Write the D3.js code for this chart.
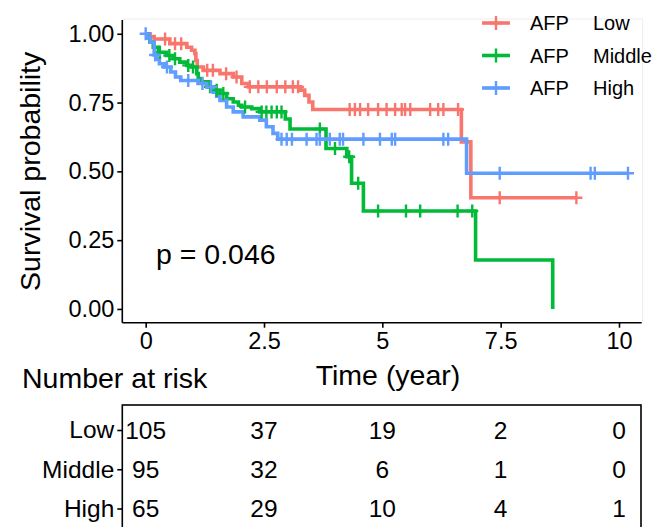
<!DOCTYPE html>
<html><head><meta charset="utf-8">
<script src="https://cdn.jsdelivr.net/npm/d3@7"></script>
<style>
html,body{margin:0;padding:0;background:#fff;}
text{font-family:"Liberation Sans",Arial,Helvetica,sans-serif;fill:#000;}
</style></head>
<body><svg id="c" width="653" height="527"></svg>
<script>
// ---------------- data ----------------
const groups = ["Low", "Middle", "High"];
const groupColors = ["#F8766D", "#00BA38", "#619CFF"];
const legendPrefix = "AFP";

const lowTimes = [0, 0.09, 0.18, 0.51, 0.87, 0.97, 1.04, 1.06, 1.09, 1.22, 1.57, 1.85, 2.03, 2.17, 3.27, 3.36, 3.45, 3.53, 6.67, 6.87];
const lowSurv  = [1, 0.99, 0.981, 0.964, 0.951, 0.94, 0.928, 0.903, 0.879, 0.867, 0.855, 0.843, 0.819, 0.807, 0.795, 0.776, 0.752, 0.725, 0.607, 0.404];
const lowEnd = 9.1;
const lowCensor = [0.41, 0.62, 0.75, 1.3, 1.42, 1.7, 1.92, 2.2, 2.38, 2.56, 2.77, 2.95, 3.11, 3.22, 4.31, 4.42, 4.53, 4.70, 4.91, 5.09, 5.27, 5.41, 5.48, 5.59, 6.01, 6.18, 6.29, 6.60, 7.48, 9.1];

const midTimes = [0, 0.05, 0.09, 0.16, 0.27, 0.44, 0.58, 0.72, 0.87, 0.97, 1.08, 1.11, 1.18, 1.32, 1.46, 1.57, 1.71, 1.85, 1.96, 2.03, 2.24, 2.41, 2.95, 3.05, 3.81, 4.25, 4.35, 4.6, 6.97, 8.6];
const midSurv  = [1, 0.985, 0.97, 0.951, 0.933, 0.921, 0.909, 0.897, 0.885, 0.879, 0.855, 0.837, 0.825, 0.807, 0.795, 0.783, 0.764, 0.752, 0.74, 0.734, 0.728, 0.716, 0.69, 0.654, 0.583, 0.553, 0.457, 0.356, 0.178, 0.0];
const midEnd = 8.6;
const midCensor = [0.3, 0.5, 0.62, 0.9, 1.0, 1.36, 1.5, 1.64, 2.1, 2.45, 2.55, 2.66, 2.77, 2.87, 3.68, 4.0, 4.3, 4.49, 4.91, 5.5, 5.8, 6.59, 6.9];

const highTimes = [0, 0.03, 0.1, 0.18, 0.23, 0.29, 0.39, 0.53, 0.63, 0.74, 1.11, 1.29, 1.43, 1.5, 1.57, 1.71, 1.85, 2.06, 2.41, 2.55, 2.69, 2.79, 6.78];
const highSurv  = [1, 0.985, 0.969, 0.923, 0.908, 0.891, 0.879, 0.861, 0.843, 0.83, 0.819, 0.807, 0.788, 0.773, 0.758, 0.734, 0.716, 0.698, 0.686, 0.662, 0.638, 0.617, 0.493];
const highEnd = 10.19;
const highCensor = [0.0, 0.2, 0.45, 0.9, 1.2, 1.38, 2.87, 2.98, 3.09, 3.4, 3.61, 3.68, 3.89, 4.1, 4.17, 4.6, 4.95, 5.2, 5.27, 6.29, 6.39, 7.48, 9.40, 9.49, 10.19];

const xTicks = [0, 2.5, 5, 7.5, 10];
const yTicks = [0, 0.25, 0.5, 0.75, 1];
const riskLow = [105, 37, 19, 2, 0];
const riskMiddle = [95, 32, 6, 1, 0];
const riskHigh = [65, 29, 10, 4, 1];
const pText = "p = 0.046";

// ---------------- chart ----------------
const series = [
  {name: groups[0], times: lowTimes, surv: lowSurv, end: lowEnd, censor: lowCensor, risk: riskLow, color: groupColors[0]},
  {name: groups[1], times: midTimes, surv: midSurv, end: midEnd, censor: midCensor, risk: riskMiddle, color: groupColors[1]},
  {name: groups[2], times: highTimes, surv: highSurv, end: highEnd, censor: highCensor, risk: riskHigh, color: groupColors[2]}
];

const svg = d3.select("#c");
const L = 122.3, R = 641.7, T = 20, B = 322.7;
const x = d3.scaleLinear().domain([-0.494, 10.48]).range([L, R]);
const y = d3.scaleLinear().domain([-0.05, 1.05]).range([B, T]);

// faint panel border
svg.append("path").attr("d", `M${L},${T - 1}H${R + 1}V${B}`)
  .attr("fill", "none").attr("stroke", "#ececec").attr("stroke-width", 1);

const stepVal = (s, t) => {
  let v = s.surv[0];
  for (let i = 0; i < s.times.length; i++) if (s.times[i] <= t) v = s.surv[i];
  return v;
};

const line = d3.line().x(d => x(d[0])).y(d => y(d[1])).curve(d3.curveStepAfter);
const plotG = svg.append("g");
series.forEach(s => {
  const pts = s.times.map((t, i) => [t, s.surv[i]]);
  pts.push([s.end, s.surv[s.surv.length - 1]]);
  plotG.append("path").attr("d", line(pts)).attr("fill", "none")
    .attr("stroke", s.color).attr("stroke-width", 3.6).attr("stroke-linejoin", "miter");
});
series.forEach(s => {
  plotG.selectAll(null).data(s.censor).enter().append("path")
    .attr("d", t => { const cx = x(t), cy = y(stepVal(s, t)); return `M${cx - 6},${cy}H${cx + 6}M${cx},${cy - 6.5}V${cy + 6.5}`; })
    .attr("stroke", s.color).attr("stroke-width", 2.4).attr("fill", "none");
});

// axes
const fmtX = d3.format("~g");
const xAxis = svg.append("g").attr("transform", `translate(0,${B})`)
  .call(d3.axisBottom(x).tickValues(xTicks).tickFormat(fmtX).tickSize(5).tickPadding(5).tickSizeOuter(0));
const yAxis = svg.append("g").attr("transform", `translate(${L},0)`)
  .call(d3.axisLeft(y).tickValues(yTicks).tickFormat(d3.format(".2f")).tickSize(5).tickPadding(3).tickSizeOuter(0));
[xAxis, yAxis].forEach(a => {
  a.select(".domain").attr("stroke", "#000").attr("stroke-width", 1.6);
  a.selectAll(".tick line").attr("stroke", "#000").attr("stroke-width", 1.6);
  a.selectAll(".tick text").attr("font-size", 23.5).attr("fill", "#000")
    .style("font-family", '"Liberation Sans",Arial,sans-serif');
});
xAxis.select(".domain").attr("d", `M${L},0H${R}`);
yAxis.select(".domain").attr("d", `M0,${T}V${B}`);

// axis titles
svg.append("text").attr("x", 388).attr("y", 385).attr("text-anchor", "middle")
  .attr("font-size", 28.5).text("Time (year)");
svg.append("text").attr("transform", `translate(40,${(T + B) / 2}) rotate(-90)`)
  .attr("text-anchor", "middle").attr("font-size", 28.5).text("Survival probability");

// p-value
svg.append("text").attr("x", 156).attr("y", 264).attr("font-size", 28.5).text(pText);

// legend
const legY = d3.scalePoint().domain(groups).range([23, 88]);
const leg = svg.append("g");
series.forEach(s => {
  const yy = legY(s.name);
  leg.append("path").attr("d", `M482,${yy}H510`).attr("stroke", s.color).attr("stroke-width", 3.6);
  leg.append("path").attr("d", `M490,${yy}H502M496,${yy - 7}V${yy + 7}`).attr("stroke", s.color).attr("stroke-width", 2.4);
  leg.append("text").attr("x", 530).attr("y", yy).attr("dy", "0.36em").attr("font-size", 20).text(legendPrefix);
  leg.append("text").attr("x", 593).attr("y", yy).attr("dy", "0.36em").attr("font-size", 20).text(s.name);
});

// risk table
svg.append("text").attr("x", 22).attr("y", 388).attr("font-size", 28.5).text("Number at risk");
const TT = 405;
svg.append("rect").attr("x", L).attr("y", TT).attr("width", R - L - 0.7).attr("height", 160)
  .attr("fill", "none").attr("stroke", "#000").attr("stroke-width", 1.6);
const rowY = d3.scalePoint().domain(groups).range([430, 508.5]);
const tAxis = svg.append("g").attr("transform", `translate(${L},0)`)
  .call(d3.axisLeft(rowY).tickSize(5).tickPadding(3).tickSizeOuter(0));
tAxis.select(".domain").remove();
tAxis.selectAll(".tick line").attr("stroke", "#000").attr("stroke-width", 1.6);
tAxis.selectAll(".tick text").attr("font-size", 24.5).attr("fill", "#000")
  .style("font-family", '"Liberation Sans",Arial,sans-serif');
series.forEach(s => {
  svg.selectAll(null).data(s.risk).enter().append("text")
    .attr("x", (d, i) => x(xTicks[i])).attr("y", rowY(s.name)).attr("dy", "0.36em")
    .attr("text-anchor", "middle").attr("font-size", 24.5).text(d => d);
});
</script></body></html>
